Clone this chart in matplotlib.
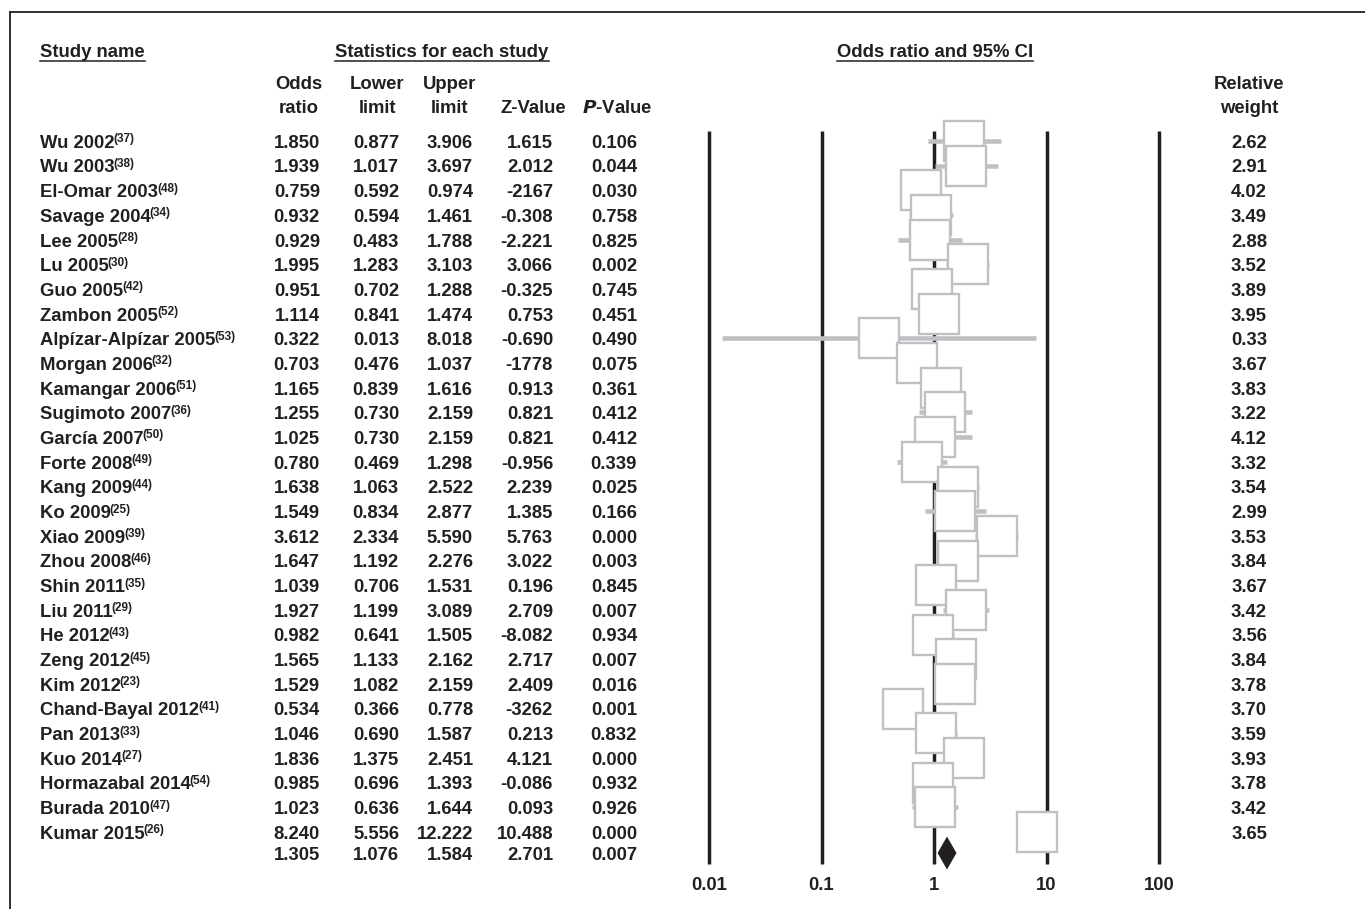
import numpy as np
import matplotlib
matplotlib.use("Agg")
import matplotlib.pyplot as plt
from matplotlib.lines import Line2D

plt.rcParams['font.family'] = ['Liberation Sans Narrow', 'Liberation Sans', 'DejaVu Sans']
plt.rcParams['font.weight'] = 'bold'
plt.rcParams['mathtext.fontset'] = 'custom'
plt.rcParams['mathtext.rm'] = 'Liberation Sans Narrow:bold'
plt.rcParams['mathtext.it'] = 'Liberation Sans Narrow:italic:bold'
plt.rcParams['mathtext.bf'] = 'Liberation Sans Narrow:bold'

## DATA
studies = ['Wu 2002', 'Wu 2003', 'El-Omar 2003', 'Savage 2004', 'Lee 2005', 'Lu 2005',
           'Guo 2005', 'Zambon 2005', 'Alpízar-Alpízar 2005', 'Morgan 2006', 'Kamangar 2006',
           'Sugimoto 2007', 'García 2007', 'Forte 2008', 'Kang 2009', 'Ko 2009', 'Xiao 2009',
           'Zhou 2008', 'Shin 2011', 'Liu 2011', 'He 2012', 'Zeng 2012', 'Kim 2012',
           'Chand-Bayal 2012', 'Pan 2013', 'Kuo 2014', 'Hormazabal 2014', 'Burada 2010', 'Kumar 2015']
refs = ['37', '38', '48', '34', '28', '30', '42', '52', '53', '32', '51', '36', '50', '49', '44',
        '25', '39', '46', '35', '29', '43', '45', '23', '41', '33', '27', '54', '47', '26']
odds = [1.850, 1.939, 0.759, 0.932, 0.929, 1.995, 0.951, 1.114, 0.322, 0.703, 1.165, 1.255, 1.025,
        0.780, 1.638, 1.549, 3.612, 1.647, 1.039, 1.927, 0.982, 1.565, 1.529, 0.534, 1.046, 1.836,
        0.985, 1.023, 8.240]
lower = [0.877, 1.017, 0.592, 0.594, 0.483, 1.283, 0.702, 0.841, 0.013, 0.476, 0.839, 0.730, 0.730,
         0.469, 1.063, 0.834, 2.334, 1.192, 0.706, 1.199, 0.641, 1.133, 1.082, 0.366, 0.690, 1.375,
         0.696, 0.636, 5.556]
upper = [3.906, 3.697, 0.974, 1.461, 1.788, 3.103, 1.288, 1.474, 8.018, 1.037, 1.616, 2.159, 2.159,
         1.298, 2.522, 2.877, 5.590, 2.276, 1.531, 3.089, 1.505, 2.162, 2.159, 0.778, 1.587, 2.451,
         1.393, 1.644, 12.222]
zvals = ['1.615', '2.012', '-2167', '-0.308', '-2.221', '3.066', '-0.325', '0.753', '-0.690', '-1778',
         '0.913', '0.821', '0.821', '-0.956', '2.239', '1.385', '5.763', '3.022', '0.196', '2.709',
         '-8.082', '2.717', '2.409', '-3262', '0.213', '4.121', '-0.086', '0.093', '10.488']
pvals = [0.106, 0.044, 0.030, 0.758, 0.825, 0.002, 0.745, 0.451, 0.490, 0.075, 0.361, 0.412, 0.412,
         0.339, 0.025, 0.166, 0.000, 0.003, 0.845, 0.007, 0.934, 0.007, 0.016, 0.001, 0.832, 0.000,
         0.932, 0.926, 0.000]
weights = [2.62, 2.91, 4.02, 3.49, 2.88, 3.52, 3.89, 3.95, 0.33, 3.67, 3.83, 3.22, 4.12, 3.32, 3.54,
           2.99, 3.53, 3.84, 3.67, 3.42, 3.56, 3.84, 3.78, 3.70, 3.59, 3.93, 3.78, 3.42, 3.65]
summary = {'odds': 1.305, 'lower': 1.076, 'upper': 1.584, 'z': '2.701', 'p': 0.007}
ticks = [0.01, 0.1, 1, 10, 100]
tick_labels = ['0.01', '0.1', '1', '10', '100']

W, H = 1365, 909
ROW0, ROWH = 141, 24.68   # pixel y of first row, row spacing
BL = 6.8                  # baseline offset below row centre, px


def row(py):
    return (py - ROW0) / ROWH


fig = plt.figure(figsize=(W / 100, H / 100), dpi=100)
fig.patch.set_facecolor('white')

# text axes: x in pixels, y in row units
tax = fig.add_axes([0, 0, 1, 1])
tax.set_xlim(0, W)
tax.set_ylim(row(H), row(0))
tax.axis('off')

# forest axes: log x, same rows
x_left, x_right, dec = 680, 1190, 112.5
xpos1 = 934
fax = fig.add_axes([x_left / W, 0, (x_right - x_left) / W, 1], sharey=tax)
fax.set_xscale('log')
fax.set_xlim(10 ** ((x_left - xpos1) / dec), 10 ** ((x_right - xpos1) / dec))
fax.axis('off')
fax.patch.set_alpha(0)

FS = 13.3
gray = '#c0c0c4'
ink = '#231f20'

n = len(studies)
ys = np.arange(n)
y_sum = row(853)
bl = BL / ROWH


def put(x, y, s, ha='center', **kw):
    return tax.text(x, y + bl, s, ha=ha, va='baseline', fontsize=FS, color=ink, **kw)


# frame
fig.add_artist(Line2D([10 / W, 10 / W], [0, 1 - 11.5 / H], color=ink, lw=1.3))
fig.add_artist(Line2D([10 / W, 1], [1 - 11.5 / H, 1 - 11.5 / H], color=ink, lw=1.3))

# headers
hdr_texts = [put(40, row(50), 'Study name', 'left'),
             put(442, row(50), 'Statistics for each study'),
             put(935, row(50), 'Odds ratio and 95% CI')]

col_x = [320, 399, 473, 553, 637]
col_head = [('Odds', 'ratio', 299), ('Lower', 'limit', 377), ('Upper', 'limit', 450),
            ('', 'Z-Value', 533), ('', r'$\it{P}$-Value', 617)]
for l1, l2, cx in col_head:
    if l1:
        put(cx, row(82), l1)
    put(cx, row(106), l2)
put(1249, row(82), 'Relative')
put(1249, row(106), 'weight')

# table rows
name_texts = []
for i in range(n):
    name_texts.append(put(40, ys[i], studies[i], 'left'))
    vals = ['%.3f' % odds[i], '%.3f' % lower[i], '%.3f' % upper[i], zvals[i], '%.3f' % pvals[i]]
    for cx, v in zip(col_x, vals):
        put(cx, ys[i], v, 'right')
    put(1249, ys[i], '%.2f' % weights[i])

svals = ['%.3f' % summary['odds'], '%.3f' % summary['lower'], '%.3f' % summary['upper'],
         summary['z'], '%.3f' % summary['p']]
for cx, v in zip(col_x, svals):
    put(cx, y_sum, v, 'right')

# forest plot
fax.vlines(ticks, row(131), row(864), color=ink, lw=2.5, zorder=1)
fax.hlines(ys, lower, upper, color=gray, lw=3.3, zorder=2)
for i in range(n):
    fax.plot(odds[i], ys[i], marker='s', ms=28.5, mfc='white', mec=gray, mew=1.7,
             zorder=3 + i)
h = 16.5 / ROWH
fax.fill([summary['lower'], summary['odds'], summary['upper'], summary['odds']],
         [y_sum, y_sum - h, y_sum, y_sum + h], color=ink, zorder=50, lw=0)
for t, lab in zip(ticks, tick_labels):
    fax.text(t, row(883) + bl, lab, ha='center', va='baseline', fontsize=FS, color=ink)

# superscript reference numbers and header underlines
fig.canvas.draw()
r = fig.canvas.get_renderer()
for i, t in enumerate(name_texts):
    bb = t.get_window_extent(r)
    tax.text(bb.x1 - 1, ys[i] + bl - 5.5 / ROWH, '(' + refs[i] + ')', ha='left',
             va='baseline', fontsize=8.5, color=ink)
for t in hdr_texts:
    bb = t.get_window_extent(r)
    yline = (bb.y0 - 0.5) / H
    fig.add_artist(Line2D([bb.x0 / W, bb.x1 / W], [yline, yline], color=ink, lw=1.1))

fig.savefig('out.png', dpi=100)
